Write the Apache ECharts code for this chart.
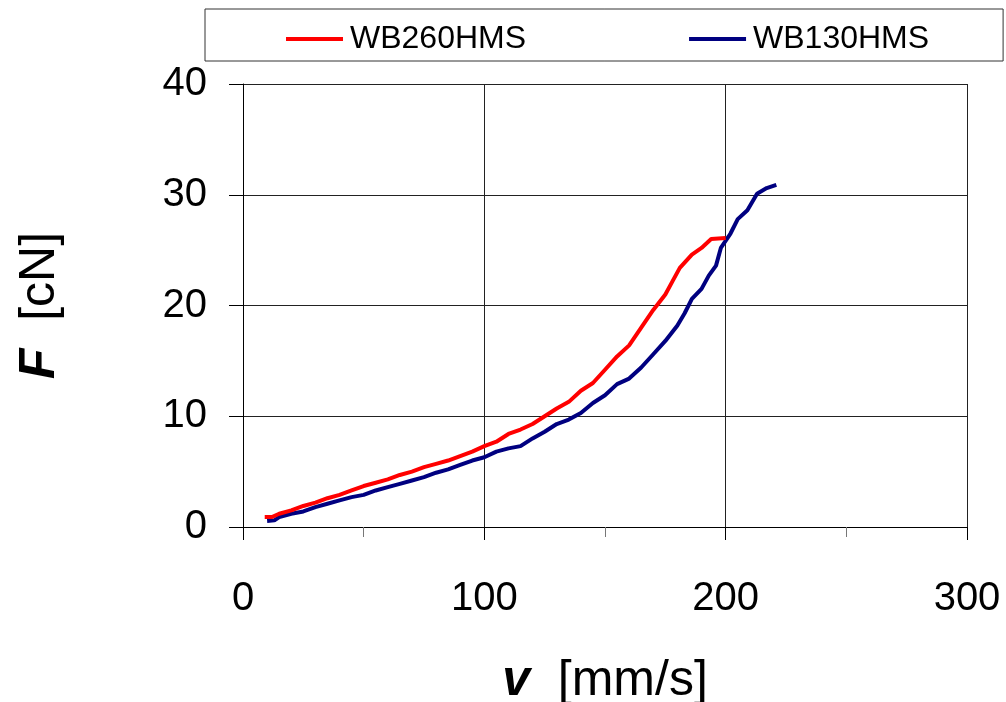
<!DOCTYPE html>
<html>
<head>
<meta charset="utf-8">
<script src="https://cdn.jsdelivr.net/npm/echarts@6/dist/echarts.min.js"></script>
<style>html,body{margin:0;padding:0;background:#fff}#c{width:1006px;height:702px}</style>
</head>
<body>
<div id="c"></div>
<script>
const seriesNames = ['WB260HMS', 'WB130HMS'];
const xTicks = [0, 100, 200, 300];
const yTicks = [0, 10, 20, 30, 40];
// WB260HMS : [v, F]
const wb260 = [[9,0.9],[12,0.9],[15,1.2],[20,1.5],[25,1.9],[30,2.2],[35,2.6],[40,2.9],[45,3.3],[50,3.7],[55,4.0],[60,4.3],[65,4.7],[70,5.0],[75,5.4],[80,5.7],[85,6.0],[90,6.4],[95,6.8],[100,7.3],[105,7.7],[110,8.4],[115,8.8],[120,9.3],[125,10.0],[130,10.7],[135,11.3],[140,12.3],[145,13.0],[150,14.2],[155,15.4],[160,16.4],[165,18.0],[170,19.6],[175,21.0],[178,22.2],[181,23.4],[186,24.6],[190,25.2],[194,26.0],[200,26.1]];
// WB130HMS : [v, F]
const wb130 = [[10,0.55],[13,0.6],[15,0.9],[20,1.2],[25,1.4],[30,1.8],[35,2.1],[40,2.4],[45,2.7],[50,2.9],[55,3.3],[60,3.6],[65,3.9],[70,4.2],[75,4.5],[80,4.9],[85,5.2],[90,5.6],[95,6.0],[100,6.3],[105,6.8],[110,7.1],[115,7.3],[120,8.0],[125,8.6],[130,9.3],[135,9.7],[140,10.3],[145,11.2],[150,11.9],[155,12.9],[160,13.4],[165,14.4],[170,15.6],[175,16.8],[180,18.2],[183,19.3],[186,20.6],[190,21.5],[193,22.7],[196,23.6],[198,25.2],[202,26.5],[205,27.8],[209,28.6],[213,30.1],[217,30.6],[221,30.9]];

const FONT = '"Liberation Sans", Arial, sans-serif';
const chart = echarts.init(document.getElementById('c'), null, {renderer: 'canvas'});
chart.setOption({
  animation: false,
  backgroundColor: '#fff',
  textStyle: {fontFamily: FONT, color: '#000'},
  legend: {
    left: 205, top: 9,
    padding: [14, 74, 6, 81],
    itemGap: 163,
    itemWidth: 57, itemHeight: 4,
    icon: 'rect',
    borderColor: '#333', borderWidth: 1,
    textStyle: {fontFamily: FONT, fontSize: 32, color: '#000', padding: [0,0,0,2]},
    data: seriesNames
  },
  grid: {left: 243, top: 84, right: 39, bottom: 175, containLabel: false, outerBoundsMode: 'none'},
  xAxis: {
    type: 'value', min: xTicks[0], max: xTicks[xTicks.length-1], interval: 100,
    name: '{b|v}  [mm/s]', nameLocation: 'middle', nameGap: 129,
    nameTextStyle: {fontFamily: FONT, fontSize: 50, color: '#000',
      rich: {b: {fontFamily: FONT, fontSize: 50, fontWeight: 'bold', fontStyle: 'italic', color: '#000'}}},
    axisLine: {show: true, onZero: false, lineStyle: {color: '#000', width: 1}},
    axisTick: {show: true, inside: false, length: 13, lineStyle: {color: '#000'}},
    minorTick: {show: true, splitNumber: 2, length: 10, lineStyle: {color: '#777'}},
    axisLabel: {fontFamily: FONT, fontSize: 40, color: '#000', margin: 52},
    splitLine: {show: true, lineStyle: {color: '#222', width: 1}}
  },
  yAxis: {
    type: 'value', min: yTicks[0], max: yTicks[yTicks.length-1], interval: 10,
    name: '{b|F}  [cN]', nameLocation: 'middle', nameGap: 178,
    nameTextStyle: {fontFamily: FONT, fontSize: 50, color: '#000',
      rich: {b: {fontFamily: FONT, fontSize: 50, fontWeight: 'bold', fontStyle: 'italic', color: '#000'}}},
    axisLine: {show: true, onZero: false, lineStyle: {color: '#000', width: 1}},
    axisTick: {show: true, inside: false, length: 14, lineStyle: {color: '#000'}},
    axisLabel: {fontFamily: FONT, fontSize: 40, color: '#000', margin: 36},
    splitLine: {show: true, lineStyle: {color: '#222', width: 1}}
  },
  series: [
    {name: seriesNames[0], type: 'line', data: wb260, showSymbol: false, symbol: 'none',
     lineStyle: {color: '#ff0000', width: 4}, itemStyle: {color: '#ff0000'}, z: 3},
    {name: seriesNames[1], type: 'line', data: wb130, showSymbol: false, symbol: 'none',
     lineStyle: {color: '#000080', width: 4}, itemStyle: {color: '#000080'}, z: 2}
  ]
});
</script>
</body>
</html>
